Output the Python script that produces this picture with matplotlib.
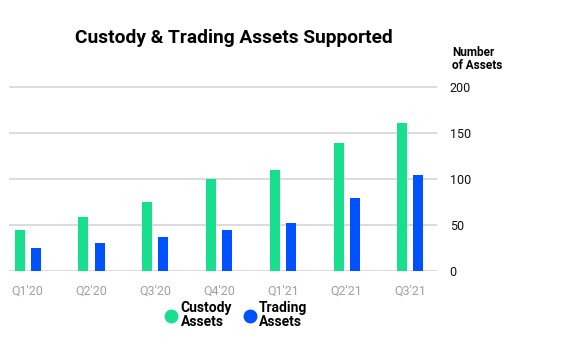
import numpy as np
import matplotlib
matplotlib.use('Agg')
import matplotlib.pyplot as plt
from matplotlib.lines import Line2D

quarters = ["Q1'20", "Q2'20", "Q3'20", "Q4'20", "Q1'21", "Q2'21", "Q3'21"]
custody = [44, 58, 75, 100, 110, 139, 161]
trading = [25, 30, 37, 44, 52, 79, 104]
yticks = [0, 50, 100, 150, 200]

green = '#17df8d'
blue = '#0052ff'

plt.rcParams['font.family'] = ['Roboto', 'DejaVu Sans']

fig = plt.figure(figsize=(5.76, 3.56), dpi=100)
ax = fig.add_axes([0.016, 0.240, 0.743, 0.5285])

x = np.arange(len(quarters))
w = 0.157
ax.bar(x - 0.126, custody, width=w, color=green, zorder=3)
ax.bar(x + 0.126, trading, width=w, color=blue, zorder=3)

ax.set_xlim(-0.29, 6.42)
ax.set_ylim(0, 205)
ax.set_yticks(yticks)
ax.set_xticks(x)
ax.set_xticklabels(quarters, color='#a0a0a0', fontsize=9)
ax.yaxis.tick_right()
ax.tick_params(axis='y', length=0, pad=9, labelsize=9, labelcolor='#111111')
ax.tick_params(axis='x', length=0, pad=10)
for lbl in ax.get_yticklabels():
    lbl.set_horizontalalignment('left')
ax.grid(axis='y', color='#d6d6d6', lw=1.2, zorder=0)
for s in ax.spines.values():
    s.set_visible(False)

fig.text(234 / 576, 1 - 38 / 356, 'Custody & Trading Assets Supported',
         ha='center', va='center', fontsize=13.8, fontweight='bold')
fig.text(452 / 576, 1 - 59 / 356, 'Number\nof Assets', ha='left', va='center',
         fontsize=8.5, fontweight='bold', linespacing=1.05)

handles = [Line2D([], [], marker='o', ls='', color=green, markersize=9),
           Line2D([], [], marker='o', ls='', color=blue, markersize=9)]
fig.legend(handles, ['Custody\nAssets', 'Trading\nAssets'], ncol=2, frameon=False,
           loc='center', bbox_to_anchor=(236 / 576, 1 - 315 / 356),
           prop={'weight': 'bold', 'size': 10}, handletextpad=0.15,
           columnspacing=0.8, handlelength=1.0, labelspacing=0)
for t in fig.legends[0].get_texts():
    t.set_linespacing(1.0)

fig.savefig('out.png', dpi=100)
